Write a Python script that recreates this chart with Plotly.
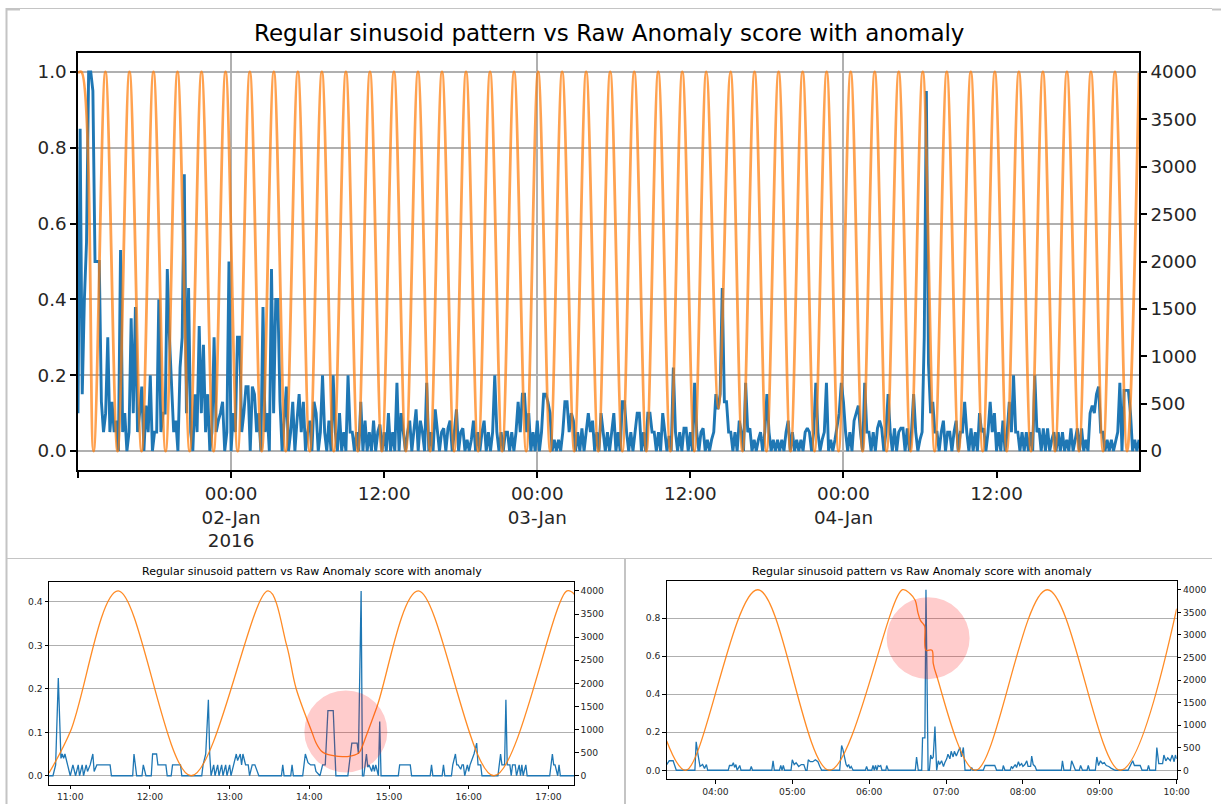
import pandas as pd
import plotly.graph_objects as go

W, H = 1221, 804
TITLE = "Regular sinusoid pattern vs Raw Anomaly score with anomaly"

# ---------------- top panel data ----------------
TOP_START = "2016-01-01 12:00"
TOP_STEP = "10min"
top_score = [
    0.1, 0.85, 0.15, 0.4, 0.55, 1.0, 1.0, 0.95, 0.5, 0.5,
    0.5, 0.13, 0.05, 0.1, 0.3, 0.05, 0.13, 0.05, 0.08, 0.0,
    0.53, 0.05, 0.1, 0.0, 0.05, 0.35, 0.1, 0.38, 0.05, 0.1,
    0.17, 0.0, 0.12, 0.05, 0.2, 0.0, 0.05, 0.05, 0.4, 0.05,
    0.1, 0.1, 0.48, 0.3, 0.17, 0.05, 0.08, 0.0, 0.22, 0.3,
    0.73, 0.1, 0.43, 0.05, 0.0, 0.15, 0.05, 0.33, 0.1, 0.28,
    0.05, 0.15, 0.0, 0.05, 0.3, 0.05, 0.08, 0.1, 0.13, 0.0,
    0.05, 0.5, 0.0, 0.1, 0.05, 0.3, 0.3, 0.05, 0.1, 0.17,
    0.17, 0.0, 0.17, 0.15, 0.05, 0.1, 0.0, 0.38, 0.05, 0.1,
    0.0, 0.48, 0.1, 0.4, 0.4, 0.13, 0.0, 0.08, 0.17, 0.0,
    0.05, 0.13, 0.0, 0.08, 0.15, 0.05, 0.13, 0.0, 0.05, 0.08,
    0.0, 0.13, 0.1, 0.0, 0.05, 0.2, 0.05, 0.0, 0.08, 0.0,
    0.2, 0.05, 0.0, 0.1, 0.0, 0.05, 0.0, 0.2, 0.05, 0.05,
    0.0, 0.05, 0.0, 0.13, 0.0, 0.08, 0.0, 0.05, 0.0, 0.08,
    0.0, 0.05, 0.07, 0.0, 0.05, 0.0, 0.1, 0.0, 0.05, 0.0,
    0.18, 0.0, 0.1, 0.05, 0.0, 0.05, 0.08, 0.0, 0.05, 0.11,
    0.0, 0.08, 0.05, 0.0, 0.18, 0.0, 0.05, 0.0, 0.11, 0.05,
    0.0, 0.05, 0.06, 0.0, 0.06, 0.08, 0.0, 0.05, 0.11, 0.0,
    0.05, 0.06, 0.0, 0.03, 0.0, 0.03, 0.08, 0.0, 0.05, 0.0,
    0.05, 0.08, 0.0, 0.05, 0.0, 0.05, 0.2, 0.05, 0.0, 0.05,
    0.0, 0.05, 0.05, 0.0, 0.05, 0.0, 0.05, 0.13, 0.05, 0.15,
    0.15, 0.05, 0.1, 0.0, 0.05, 0.0, 0.08, 0.0, 0.05, 0.15,
    0.15, 0.13, 0.1, 0.0, 0.03, 0.0, 0.03, 0.0, 0.05, 0.13,
    0.13, 0.05, 0.1, 0.08, 0.0, 0.05, 0.0, 0.06, 0.0, 0.05,
    0.1, 0.05, 0.08, 0.0, 0.05, 0.0, 0.1, 0.05, 0.0, 0.05,
    0.0, 0.05, 0.1, 0.0, 0.05, 0.0, 0.13, 0.13, 0.05, 0.0,
    0.05, 0.0, 0.05, 0.1, 0.1, 0.0, 0.05, 0.0, 0.1, 0.1,
    0.05, 0.05, 0.0, 0.05, 0.0, 0.1, 0.05, 0.0, 0.04, 0.0,
    0.22, 0.05, 0.0, 0.05, 0.0, 0.06, 0.06, 0.0, 0.05, 0.0,
    0.18, 0.05, 0.0, 0.05, 0.06, 0.0, 0.03, 0.0, 0.03, 0.05,
    0.15, 0.11, 0.15, 0.43, 0.13, 0.13, 0.05, 0.05, 0.0, 0.05,
    0.0, 0.08, 0.05, 0.0, 0.18, 0.05, 0.06, 0.0, 0.03, 0.0,
    0.03, 0.05, 0.0, 0.05, 0.15, 0.05, 0.0, 0.03, 0.0, 0.03,
    0.0, 0.03, 0.0, 0.05, 0.08, 0.0, 0.05, 0.0, 0.03, 0.0,
    0.03, 0.0, 0.05, 0.06, 0.05, 0.0, 0.05, 0.18, 0.05, 0.0,
    0.03, 0.05, 0.18, 0.0, 0.03, 0.0, 0.03, 0.07, 0.1, 0.18,
    0.13, 0.05, 0.0, 0.05, 0.0, 0.08, 0.1, 0.12, 0.05, 0.0,
    0.18, 0.05, 0.05, 0.0, 0.05, 0.0, 0.06, 0.08, 0.06, 0.0,
    0.05, 0.15, 0.05, 0.0, 0.06, 0.0, 0.05, 0.06, 0.06, 0.0,
    0.06, 0.0, 0.05, 0.15, 0.05, 0.0, 0.03, 0.05, 0.3, 0.95,
    0.23, 0.1, 0.13, 0.05, 0.05, 0.0, 0.05, 0.08, 0.0, 0.05,
    0.05, 0.0, 0.05, 0.08, 0.0, 0.05, 0.05, 0.13, 0.05, 0.0,
    0.06, 0.0, 0.05, 0.0, 0.1, 0.05, 0.06, 0.0, 0.05, 0.13,
    0.05, 0.1, 0.0, 0.05, 0.0, 0.08, 0.0, 0.05, 0.13, 0.05,
    0.2, 0.05, 0.05, 0.0, 0.05, 0.0, 0.05, 0.0, 0.05, 0.0,
    0.2, 0.05, 0.06, 0.0, 0.06, 0.0, 0.06, 0.0, 0.03, 0.05,
    0.0, 0.05, 0.0, 0.05, 0.0, 0.03, 0.0, 0.06, 0.0, 0.03,
    0.06, 0.0, 0.06, 0.0, 0.03, 0.0, 0.1, 0.12, 0.1, 0.15,
    0.17, 0.05, 0.05, 0.0, 0.03, 0.0, 0.03, 0.0, 0.03, 0.05,
    0.18, 0.0, 0.16, 0.16, 0.16, 0.1, 0.0, 0.03, 0.0, 0.03,
]

# sinusoid turning points (time, value)
top_sine = [
    ("2016-01-01 12:00", 3990), ("2016-01-01 12:16", 4000), ("2016-01-01 13:13", 0),
    ("2016-01-01 14:09", 4000), ("2016-01-01 15:06", 0), ("2016-01-01 16:02", 4000),
    ("2016-01-01 16:59", 0), ("2016-01-01 17:55", 4000), ("2016-01-01 18:52", 0),
    ("2016-01-01 19:48", 4000), ("2016-01-01 20:45", 0), ("2016-01-01 21:41", 4000),
    ("2016-01-01 22:38", 0), ("2016-01-01 23:34", 4000), ("2016-01-02 00:31", 0),
    ("2016-01-02 01:28", 4000), ("2016-01-02 02:24", 0), ("2016-01-02 03:21", 4000),
    ("2016-01-02 04:17", 0), ("2016-01-02 05:14", 4000), ("2016-01-02 06:10", 0),
    ("2016-01-02 07:07", 4000), ("2016-01-02 08:03", 0), ("2016-01-02 09:00", 4000),
    ("2016-01-02 09:56", 0), ("2016-01-02 10:53", 4000), ("2016-01-02 11:49", 0),
    ("2016-01-02 12:46", 4000), ("2016-01-02 13:42", 0), ("2016-01-02 14:39", 4000),
    ("2016-01-02 15:36", 0), ("2016-01-02 16:32", 4000), ("2016-01-02 17:29", 0),
    ("2016-01-02 18:25", 4000), ("2016-01-02 19:22", 0), ("2016-01-02 20:18", 4000),
    ("2016-01-02 21:15", 0), ("2016-01-02 22:11", 4000), ("2016-01-02 23:08", 0),
    ("2016-01-03 00:04", 4000), ("2016-01-03 01:01", 0), ("2016-01-03 01:57", 4000),
    ("2016-01-03 02:54", 0), ("2016-01-03 03:50", 4000), ("2016-01-03 04:47", 0),
    ("2016-01-03 05:43", 4000), ("2016-01-03 06:40", 0), ("2016-01-03 07:36", 4000),
    ("2016-01-03 08:33", 0), ("2016-01-03 09:29", 4000), ("2016-01-03 10:26", 0),
    ("2016-01-03 11:22", 4000), ("2016-01-03 12:19", 0), ("2016-01-03 13:15", 4000),
    ("2016-01-03 14:12", 450), ("2016-01-03 15:09", 4000), ("2016-01-03 16:05", 0),
    ("2016-01-03 17:02", 4000), ("2016-01-03 17:58", 0), ("2016-01-03 18:55", 4000),
    ("2016-01-03 19:51", 0), ("2016-01-03 20:48", 4000), ("2016-01-03 21:44", 0),
    ("2016-01-03 22:41", 4000), ("2016-01-03 23:37", 0), ("2016-01-04 00:34", 4000),
    ("2016-01-04 01:30", 0), ("2016-01-04 02:27", 4000), ("2016-01-04 03:23", 0),
    ("2016-01-04 04:20", 4000), ("2016-01-04 05:16", 0), ("2016-01-04 06:13", 4000),
    ("2016-01-04 07:09", 0), ("2016-01-04 08:06", 4000), ("2016-01-04 09:02", 0),
    ("2016-01-04 09:59", 4000), ("2016-01-04 10:55", 0), ("2016-01-04 11:52", 4000),
    ("2016-01-04 12:48", 0), ("2016-01-04 13:45", 4000), ("2016-01-04 14:42", 0),
    ("2016-01-04 15:38", 4000), ("2016-01-04 16:35", 0), ("2016-01-04 17:31", 4000),
    ("2016-01-04 18:28", 0), ("2016-01-04 19:24", 4000), ("2016-01-04 20:21", 0),
    ("2016-01-04 21:17", 4000), ("2016-01-04 22:14", 0), ("2016-01-04 23:10", 3990),
]

top_xticks = [
    ("2016-01-01 12:00", ""),
    ("2016-01-02 00:00", "00:00<br>02-Jan<br>2016"),
    ("2016-01-02 12:00", "12:00"),
    ("2016-01-03 00:00", "00:00<br>03-Jan"),
    ("2016-01-03 12:00", "12:00"),
    ("2016-01-04 00:00", "00:00<br>04-Jan"),
    ("2016-01-04 12:00", "12:00"),
]

# ---------------- bottom-left panel data (3 Jan) ----------------
BL_DAY = "2016-01-03"
bl_score = [
    ("10:44", 0), ("10:47", 0), ("10:49", 0.025), ("10:51", 0.225), ("10:53", 0.04),
    ("10:54", 0.05), ("10:55", 0.04), ("10:56", 0.05), ("10:58", 0.025), ("11:00", 0),
    ("11:02", 0.025), ("11:04", 0), ("11:06", 0.025), ("11:07", 0), ("11:09", 0.025),
    ("11:10", 0), ("11:12", 0.025), ("11:13", 0.01), ("11:15", 0.025), ("11:17", 0.05),
    ("11:18", 0.01), ("11:20", 0.025), ("11:30", 0.025), ("11:31", 0),
    ("11:47", 0), ("11:48", 0.05), ("11:50", 0), ("11:54", 0), ("11:55", 0.025),
    ("11:57", 0), ("12:01", 0), ("12:02", 0.05), ("12:05", 0.05), ("12:06", 0.025),
    ("12:12", 0.025), ("12:13", 0), ("12:16", 0), ("12:17", 0.025), ("12:23", 0.025),
    ("12:24", 0), ("12:39", 0), ("12:40", 0.025), ("12:42", 0.05), ("12:44", 0.175),
    ("12:45", 0.05), ("12:46", 0), ("12:48", 0.025), ("12:49", 0), ("12:51", 0.025),
    ("12:52", 0), ("12:54", 0.025), ("12:55", 0), ("12:57", 0.025), ("12:58", 0),
    ("13:00", 0.025), ("13:01", 0), ("13:03", 0.025), ("13:05", 0.05), ("13:06", 0.035),
    ("13:08", 0.05), ("13:09", 0.025), ("13:10", 0.05), ("13:12", 0.025), ("13:14", 0.025),
    ("13:15", 0), ("13:17", 0.025), ("13:19", 0.025), ("13:22", 0),
    ("13:39", 0), ("13:40", 0.025), ("13:41", 0), ("13:46", 0), ("13:47", 0.025),
    ("13:48", 0), ("13:55", 0), ("13:56", 0.025), ("13:57", 0.05), ("13:59", 0.03),
    ("14:01", 0.025), ("14:04", 0.025), ("14:05", 0.01), ("14:08", 0), ("14:10", 0.025),
    ("14:12", 0.025), ("14:14", 0.15), ("14:18", 0.15), ("14:20", 0),
    ("14:29", 0), ("14:30", 0.025), ("14:32", 0.075), ("14:36", 0.075), ("14:37", 0.05),
    ("14:39", 0.425), ("14:40", 0), ("14:41", 0), ("14:43", 0.05), ("14:44", 0.02),
    ("14:45", 0.025), ("14:47", 0.01), ("14:48", 0.025), ("14:49", 0.01), ("14:50", 0.025),
    ("14:52", 0), ("14:53", 0.125), ("14:54", 0),
    ("15:07", 0), ("15:08", 0.025), ("15:16", 0.025), ("15:17", 0), ("15:31", 0),
    ("15:32", 0.025), ("15:33", 0), ("15:40", 0), ("15:41", 0.025), ("15:42", 0),
    ("15:47", 0), ("15:48", 0.025), ("15:50", 0.05), ("15:51", 0.025), ("15:52", 0.025),
    ("15:54", 0.015), ("15:55", 0.025), ("15:56", 0.025), ("15:57", 0), ("15:59", 0.025),
    ("16:00", 0.01), ("16:01", 0.025), ("16:03", 0.04), ("16:04", 0.05), ("16:06", 0.075),
    ("16:07", 0.025), ("16:09", 0.025), ("16:10", 0),
    ("16:22", 0), ("16:24", 0.05), ("16:25", 0.025), ("16:27", 0.025), ("16:28", 0.175),
    ("16:29", 0.025), ("16:31", 0.025), ("16:32", 0), ("16:33", 0.025), ("16:35", 0.025),
    ("16:36", 0), ("16:38", 0.025), ("16:39", 0), ("16:40", 0.025), ("16:41", 0),
    ("16:43", 0.025), ("16:44", 0),
    ("17:01", 0), ("17:03", 0.05), ("17:04", 0.025), ("17:05", 0.025), ("17:07", 0),
    ("17:08", 0.025), ("17:09", 0), ("17:19:30", 0),
]
bl_sine = [
    ("10:44", 60), ("11:00", 950), ("11:36", 4000), ("12:31", 0), ("13:29", 4000),
    ("13:43", 2815), ("13:50", 1894), ("14:02", 943), ("14:05", 715), ("14:09", 536),
    ("14:12", 480), ("14:18", 437), ("14:25", 415), ("14:31", 427), ("14:36", 471),
    ("14:38", 522), ("14:43", 878), ("14:51", 1500), ("15:22", 4000), ("16:19", 0),
    ("17:14", 4000), ("17:19:30", 3930),
]
bl_anomaly = ("14:27:30", 0.102)

# ---------------- bottom-right panel data (4 Jan) ----------------
BR_DAY = "2016-01-04"
br_score = [
    ("03:22", 0.03), ("03:24", 0.05), ("03:27", 0.05), ("03:28", 0.03), ("03:29:30", 0),
    ("03:44", 0), ("03:45", 0.15), ("03:46:30", 0.08), ("03:48", 0.02), ("03:50", 0.03),
    ("03:51:30", 0.01), ("03:53", 0.03), ("03:54", 0),
    ("04:10", 0), ("04:11", 0.025), ("04:13", 0.025), ("04:14", 0.04), ("04:15", 0.015),
    ("04:16", 0.03), ("04:17", 0), ("04:19", 0.025), ("04:20", 0), ("04:27", 0),
    ("04:28", 0.02), ("04:29", 0), ("04:44", 0), ("04:45", 0.05), ("04:46", 0),
    ("04:50", 0), ("04:51", 0.025), ("04:52", 0), ("04:53", 0.025), ("04:54", 0),
    ("04:59", 0), ("05:00", 0.055), ("05:01:30", 0.03), ("05:03", 0.04), ("05:05", 0.02),
    ("05:07", 0.03), ("05:09", 0.03), ("05:10:30", 0), ("05:11:30", 0), ("05:12:30", 0.055),
    ("05:14", 0.045), ("05:16", 0.045), ("05:18", 0.055), ("05:20", 0.045), ("05:21:30", 0.02),
    ("05:23", 0), ("05:37", 0), ("05:38:30", 0.13), ("05:39:30", 0.11), ("05:40:30", 0.08),
    ("05:42", 0.03), ("05:43", 0.02), ("05:44", 0.03), ("05:45", 0.01), ("05:46", 0.02),
    ("05:47:30", 0), ("05:57", 0), ("05:58", 0.02), ("05:59", 0),
    ("06:02", 0), ("06:03", 0.025), ("06:04", 0), ("06:05", 0.025), ("06:06", 0),
    ("06:07", 0.025), ("06:08", 0.02), ("06:09", 0.025), ("06:10", 0), ("06:13", 0),
    ("06:13:40", 0.025), ("06:15", 0), ("06:36", 0), ("06:37", 0.07), ("06:38:20", 0),
    ("06:41", 0), ("06:41:40", 0.17), ("06:43:30", 0.17), ("06:44:20", 0.95), ("06:46", 0),
    ("06:47", 0), ("06:48", 0.08), ("06:49", 0.06), ("06:50", 0.07), ("06:51:20", 0.23),
    ("06:52:40", 0), ("06:54", 0.05), ("06:55", 0.03), ("06:56:30", 0.05), ("06:58", 0.02),
    ("06:59", 0.04), ("07:00:30", 0.06), ("07:01:30", 0.085), ("07:03", 0.06), ("07:04", 0.1),
    ("07:05:30", 0.07), ("07:06:30", 0.1), ("07:08", 0.075), ("07:09:30", 0.1), ("07:10:50", 0.12),
    ("07:12", 0.07), ("07:13:30", 0.12), ("07:14:50", 0), ("07:19", 0), ("07:20", 0.015),
    ("07:21", 0), ("07:29", 0), ("07:30:30", 0.025), ("07:38", 0.025), ("07:39:30", 0),
    ("07:44", 0), ("07:44:40", 0.025), ("07:46", 0), ("07:50", 0), ("07:51", 0.02),
    ("07:52", 0.01), ("07:53", 0.02), ("07:54", 0.03), ("07:55", 0.015), ("07:56:30", 0.045),
    ("07:57:30", 0.025), ("07:59", 0.035), ("08:00", 0.02), ("08:01:30", 0.03), ("08:03", 0.05),
    ("08:04", 0.02), ("08:06", 0.02), ("08:06:50", 0.075), ("08:08", 0.03), ("08:09:30", 0.02),
    ("08:10:40", 0), ("08:30", 0), ("08:30:50", 0.05), ("08:32", 0), ("08:37", 0),
    ("08:38", 0.05), ("08:39:30", 0.025), ("08:41", 0), ("08:44", 0), ("08:45", 0.025),
    ("08:46:30", 0), ("08:50", 0), ("08:51", 0.025), ("08:52", 0), ("08:56:30", 0),
    ("08:57:40", 0.07), ("08:59", 0.025), ("09:00:30", 0.05), ("09:02", 0.035), ("09:03:30", 0.04),
    ("09:05", 0.025), ("09:07", 0.02), ("09:09", 0.01), ("09:12", 0), ("09:22", 0),
    ("09:23:40", 0.02), ("09:25:40", 0.05), ("09:27", 0.025), ("09:31:30", 0.025), ("09:33", 0),
    ("09:37", 0), ("09:38", 0.025), ("09:39", 0), ("09:43:30", 0), ("09:44:30", 0.12),
    ("09:46", 0.035), ("09:49", 0.035), ("09:50", 0.08), ("09:51:30", 0.05), ("09:53", 0.065),
    ("09:55", 0.05), ("09:56:30", 0.08), ("09:58", 0.045), ("09:59", 0.08), ("10:00", 0.06),
]
br_sine = [
    ("03:22", 650), ("03:37", 0), ("04:33", 4000), ("05:29", 0), ("06:26", 4000),
    ("06:32", 3910), ("06:36", 3760), ("06:38", 3500), ("06:40", 3320), ("06:42", 3250),
    ("06:43:20", 3190), ("06:44:20", 2660), ("06:49", 2660), ("06:50", 2370), ("06:52:30", 2110),
    ("07:23", 0), ("08:19", 4000), ("09:16", 0), ("10:00", 3580),
]
br_anomaly = ("06:46", 0.695)

# ---------------- styling ----------------
FONT = "DejaVu Sans"
INK = "#262626"
BLUE = "#1f77b4"
ORANGE = "#ff7f0e"
GRID = "#b0b0b0"
FRAME = "#c4c4c4"


def px_x(p):
    return p / W


def px_y(p):
    return 1 - p / H


def padded(lo, hi, frac=0.05):
    d = (hi - lo) * frac
    return [lo - d, hi + d]


def split(pairs, day=None):
    t = [pd.Timestamp(f"{day} {a}" if day else a) for a, _ in pairs]
    v = [b for _, b in pairs]
    return t, v


top_t = pd.date_range(TOP_START, periods=len(top_score), freq=TOP_STEP)
top_st, top_sv = split(top_sine)
bl_t, bl_v = split(bl_score, BL_DAY)
bl_st, bl_sv = split(bl_sine, BL_DAY)
br_t, br_v = split(br_score, BR_DAY)
br_st, br_sv = split(br_sine, BR_DAY)

fig = go.Figure()
# top
fig.add_trace(go.Scatter(x=top_t, y=top_score, mode="lines",
                         line=dict(color=BLUE, width=2.9), xaxis="x", yaxis="y"))
fig.add_trace(go.Scatter(x=top_st, y=top_sv, mode="lines", opacity=0.72,
                         line=dict(color=ORANGE, width=2.8, shape="spline"),
                         xaxis="x", yaxis="y2"))
# bottom-left
fig.add_trace(go.Scatter(x=bl_t, y=bl_v, mode="lines",
                         line=dict(color=BLUE, width=1.3), xaxis="x2", yaxis="y3"))
fig.add_trace(go.Scatter(x=bl_st, y=bl_sv, mode="lines", opacity=0.9,
                         line=dict(color=ORANGE, width=1.3, shape="spline"),
                         xaxis="x2", yaxis="y4"))
# bottom-right
fig.add_trace(go.Scatter(x=br_t, y=br_v, mode="lines",
                         line=dict(color=BLUE, width=1.3), xaxis="x3", yaxis="y5"))
fig.add_trace(go.Scatter(x=br_st, y=br_sv, mode="lines", opacity=0.9,
                         line=dict(color=ORANGE, width=1.3, shape="spline"),
                         xaxis="x3", yaxis="y6"))

TOP_DOM_X = [px_x(78), px_x(1139)]
TOP_DOM_Y = [px_y(470), px_y(53)]
BL_DOM_X = [px_x(49), px_x(574.3)]
BL_DOM_Y = [px_y(785), px_y(581.7)]
BR_DOM_X = [px_x(666.7), px_x(1176.7)]
BR_DOM_Y = [px_y(779.3), px_y(580.7)]


def y_axis(domain, anchor, rng, dtick, fmt, fsize, lw, tlen, side="left",
           overlay=None, grid=True):
    d = dict(range=rng, dtick=dtick, tick0=0, tickformat=fmt, side=side,
             anchor=anchor, showline=True, linecolor="black", linewidth=lw,
             ticks="outside", ticklen=tlen, tickwidth=lw, tickcolor="black",
             tickfont=dict(family=FONT, size=fsize, color=INK), automargin=False,
             showgrid=grid, gridcolor=GRID, gridwidth=lw, zeroline=False)
    if overlay:
        d["overlaying"] = overlay
    else:
        d["domain"] = domain
    return d


def x_axis(domain, anchor, rng, fsize, lw, tlen, **extra):
    d = dict(domain=domain, anchor=anchor, range=rng,
             showline=True, mirror=True, linecolor="black", linewidth=lw,
             ticks="outside", ticklen=tlen, tickwidth=lw, tickcolor="black",
             tickfont=dict(family=FONT, size=fsize, color=INK), showgrid=False,
             automargin=False, zeroline=False)
    d.update(extra)
    return d


top_tick_t = [pd.Timestamp(a) for a, _ in top_xticks]
top_tick_s = [b for _, b in top_xticks]

layout = dict(
    width=W, height=H, margin=dict(l=0, r=0, t=0, b=0, autoexpand=False),
    paper_bgcolor="white", plot_bgcolor="white", showlegend=False,
    font=dict(family=FONT, color=INK),
    xaxis=x_axis(TOP_DOM_X, "y", [top_t[0], top_t[-1]], 18.3, 1.5, 6,
                 tickmode="array", tickvals=top_tick_t, ticktext=top_tick_s,
                 minor=dict(tickmode="linear", tick0="2016-01-02", dtick=86400000,
                            showgrid=True, gridcolor=GRID, gridwidth=1.5, ticks="")),
    yaxis=y_axis(TOP_DOM_Y, "x", padded(min(top_score), max(top_score)), 0.2, ".1f",
                 18.3, 1.5, 6),
    yaxis2=y_axis(None, "x", padded(min(top_sv), max(top_sv)), 500, "d", 18.3, 1.5, 6,
                  side="right", overlay="y", grid=False),
    xaxis2=x_axis(BL_DOM_X, "y3", [bl_t[0], bl_t[-1]], 9.2, 0.9, 3.5,
                  tickformat="%H:%M", dtick=3600000, tick0=f"{BL_DAY} 00:00"),
    yaxis3=y_axis(BL_DOM_Y, "x2", padded(min(bl_v), max(bl_v)), 0.1, ".1f", 9.2, 0.9, 3.5),
    yaxis4=y_axis(None, "x2", padded(min(bl_sv), max(bl_sv)), 500, "d", 9.2, 0.9, 3.5,
                  side="right", overlay="y3", grid=False),
    xaxis3=x_axis(BR_DOM_X, "y5", [br_t[0], br_t[-1]], 9.2, 0.9, 3.5,
                  tickformat="%H:%M", dtick=3600000, tick0=f"{BR_DAY} 00:00"),
    yaxis5=y_axis(BR_DOM_Y, "x3", padded(min(br_v), max(br_v)), 0.2, ".1f", 9.2, 0.9, 3.5),
    yaxis6=y_axis(None, "x3", padded(min(br_sv), max(br_sv)), 500, "d", 9.2, 0.9, 3.5,
                  side="right", overlay="y5", grid=False),
)
fig.update_layout(**layout)

# titles
for dom_x, ypx, size in [(TOP_DOM_X, 33, 23), (BL_DOM_X, 571, 11), (BR_DOM_X, 571, 11)]:
    fig.add_annotation(text=TITLE, xref="paper", yref="paper",
                       x=(dom_x[0] + dom_x[1]) / 2, y=px_y(ypx),
                       xanchor="center", yanchor="middle", showarrow=False,
                       font=dict(family=FONT, size=size, color="#000000"))

# anomaly highlight circles
for (tm, val), day, xr, yr in [(bl_anomaly, BL_DAY, "x2", "y3"), (br_anomaly, BR_DAY, "x3", "y5")]:
    fig.add_shape(type="circle", xref=xr, yref=yr, xsizemode="pixel", ysizemode="pixel",
                  xanchor=pd.Timestamp(f"{day} {tm}"), yanchor=val,
                  x0=-41.5, x1=41.5, y0=-41, y1=41,
                  fillcolor="rgba(255,0,0,0.2)", line=dict(width=0), layer="above")

# notebook output frames
frame = [
    (6, 8.5, 1212, 8.5, 1.2), (1212, 9.5, 1221, 9.5, 2), (6, 9.5, 20, 9.5, 2),
    (6.5, 8, 6.5, 804, 2), (6, 558.5, 1212, 558.5, 1.2),
    (625, 559, 625, 804, 2),
]
for x0, y0, x1, y1, w in frame:
    fig.add_shape(type="line", xref="paper", yref="paper",
                  x0=px_x(x0), y0=px_y(y0), x1=px_x(x1), y1=px_y(y1),
                  line=dict(color=FRAME, width=w))

fig.write_html("out.html")
